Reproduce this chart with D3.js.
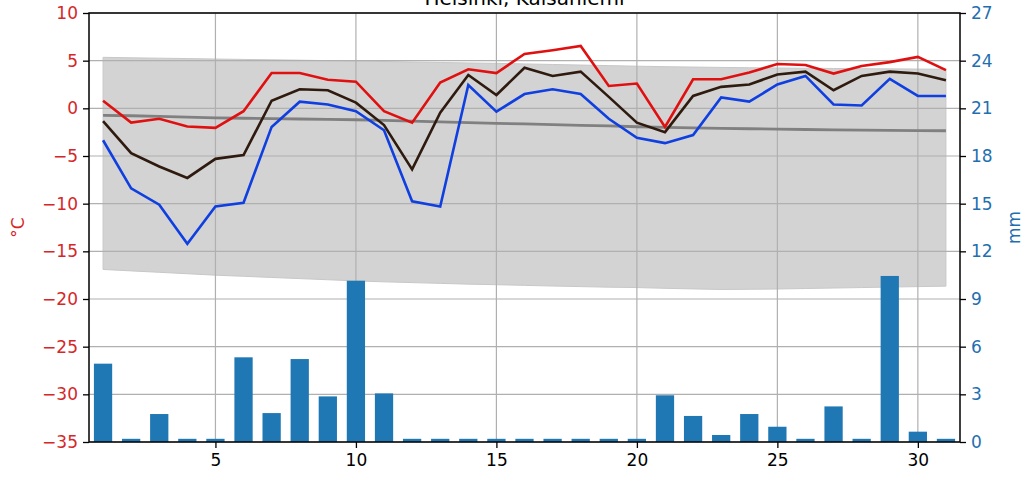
<!DOCTYPE html>
<html><head><meta charset="utf-8">
<script src="https://cdn.jsdelivr.net/npm/d3@7"></script>
<style>body{margin:0;background:#fff}svg{display:block}text{font-family:"DejaVu Sans",sans-serif}</style>
</head><body><svg id="c" width="1034" height="484"></svg>
<script>
const title = "Helsinki, Kaisaniemi";
const days = d3.range(1, 32);
const tMax = [0.8,-1.5,-1.1,-1.9,-2.05,-0.3,3.7,3.7,3.0,2.8,-0.3,-1.5,2.7,4.1,3.7,5.7,6.1,6.55,2.35,2.6,-1.95,3.05,3.05,3.75,4.65,4.55,3.65,4.45,4.85,5.4,4.0];
const tMean = [-1.35,-4.7,-6.1,-7.3,-5.3,-4.9,0.8,2.0,1.9,0.6,-1.75,-6.4,-0.45,3.5,1.4,4.25,3.4,3.85,1.2,-1.5,-2.5,1.3,2.25,2.5,3.55,3.85,1.9,3.4,3.85,3.65,2.95];
const tMin = [-3.35,-8.4,-10.1,-14.2,-10.3,-9.9,-1.95,0.7,0.4,-0.3,-2.3,-9.75,-10.3,2.45,-0.35,1.5,2.0,1.5,-1.1,-3.1,-3.65,-2.8,1.15,0.7,2.5,3.4,0.4,0.3,3.1,1.3,1.3];
const climMean = [-0.73,-0.78,-0.84,-0.92,-1.0,-1.04,-1.08,-1.12,-1.16,-1.2,-1.27,-1.34,-1.41,-1.49,-1.57,-1.64,-1.71,-1.78,-1.85,-1.93,-2.0,-2.05,-2.1,-2.14,-2.18,-2.22,-2.25,-2.28,-2.31,-2.33,-2.35];
const bandHigh = [5.35,5.3,5.26,5.22,5.17,5.13,5.09,5.05,5.0,4.96,4.91,4.86,4.81,4.76,4.72,4.66,4.6,4.54,4.48,4.42,4.37,4.33,4.29,4.26,4.23,4.2,4.18,4.16,4.14,4.12,4.1];
const bandLow = [-16.9,-17.05,-17.2,-17.35,-17.5,-17.62,-17.74,-17.86,-17.98,-18.1,-18.2,-18.28,-18.36,-18.44,-18.5,-18.57,-18.64,-18.7,-18.76,-18.8,-18.88,-18.94,-19.0,-18.98,-18.95,-18.9,-18.85,-18.8,-18.75,-18.7,-18.65];
const precip = [4.93,0.2,1.76,0.2,0.2,5.33,1.82,5.22,2.87,10.15,3.06,0.2,0.2,0.2,0.2,0.2,0.2,0.2,0.2,0.2,2.94,1.64,0.44,1.76,0.96,0.2,2.24,0.2,10.45,0.65,0.2];
const xTicks = [5,10,15,20,25,30];
const tTicks = [-35,-30,-25,-20,-15,-10,-5,0,5,10];
const pTicks = [0,3,6,9,12,15,18,21,24,27];

const svg = d3.select("#c");
const L=89, R=960, T=13, B=442;
const x = d3.scaleLinear().domain([0.5,31.5]).range([L,R]);
const yT = d3.scaleLinear().domain([-35,10]).range([B,T]);
const yP = d3.scaleLinear().domain([0,27]).range([B,T]);
const fmt = v => (v<0 ? "\u2212"+Math.abs(v) : String(v));

// band
svg.append("path").datum(days.map((d,i)=>[d,bandLow[i],bandHigh[i]]))
  .attr("d", d3.area().x(d=>x(d[0])).y0(d=>yT(d[1])).y1(d=>yT(d[2])))
  .attr("fill","#d3d3d3").attr("stroke","#c8c8c8").attr("stroke-width",1);

// grid
const g = svg.append("g");
g.selectAll(".gx").data(xTicks).join("line").attr("x1",d=>x(d)).attr("x2",d=>x(d)).attr("y1",T).attr("y2",B)
  .attr("stroke","#b0b0b0").attr("stroke-width",1.2);
g.selectAll(".gy").data(tTicks).join("line").attr("x1",L).attr("x2",R).attr("y1",d=>yT(d)).attr("y2",d=>yT(d))
  .attr("stroke","#b0b0b0").attr("stroke-width",1.2);

// lines
const line = arr => d3.line().x((d,i)=>x(days[i])).y(d=>yT(d))(arr);
svg.append("path").attr("d",line(climMean)).attr("fill","none").attr("stroke","#808080").attr("stroke-width",2.8);
svg.append("path").attr("d",line(tMin)).attr("fill","none").attr("stroke","#0f3fe0").attr("stroke-width",2.6);
svg.append("path").attr("d",line(tMean)).attr("fill","none").attr("stroke","#2e1a0e").attr("stroke-width",2.6);
svg.append("path").attr("d",line(tMax)).attr("fill","none").attr("stroke","#e01010").attr("stroke-width",2.6);

// bars
const bw = 0.65;
svg.selectAll(".bar").data(precip).join("rect")
  .attr("x",(d,i)=>x(days[i]-bw/2)).attr("width",x(bw)-x(0))
  .attr("y",d=>yP(d)).attr("height",d=>yP(0)-yP(d)).attr("fill","#1f77b4");

// axes
const axL = svg.append("g").attr("transform",`translate(${L},0)`)
  .call(d3.axisLeft(yT).tickValues(tTicks).tickFormat(fmt).tickSize(6).tickPadding(5));
axL.selectAll("text").attr("fill","#d62728").style("font-size","17px");
const axR = svg.append("g").attr("transform",`translate(${R},0)`)
  .call(d3.axisRight(yP).tickValues(pTicks).tickFormat(fmt).tickSize(6).tickPadding(5));
axR.selectAll("text").attr("fill","#1f6fb0").style("font-size","17px");
const axB = svg.append("g").attr("transform",`translate(0,${B})`)
  .call(d3.axisBottom(x).tickValues(xTicks).tickFormat(fmt).tickSize(6).tickPadding(6));
axB.selectAll("text").attr("fill","#000").style("font-size","17px");
[axL,axR,axB].forEach(a=>{a.select(".domain").remove();a.selectAll(".tick line").attr("stroke","#000").attr("stroke-width",1.3);});
// frame
svg.append("rect").attr("x",L).attr("y",T).attr("width",R-L).attr("height",B-T)
  .attr("fill","none").attr("stroke","#000").attr("stroke-width",1.5);

svg.append("text").attr("transform",`translate(24,${(T+B)/2}) rotate(-90)`).attr("text-anchor","middle")
  .attr("fill","#d62728").style("font-size","17px").text("°C");
svg.append("text").attr("transform",`translate(1020,${(T+B)/2}) rotate(-90)`).attr("text-anchor","middle")
  .attr("fill","#1f6fb0").style("font-size","17px").text("mm");
svg.append("text").attr("x",(L+R)/2).attr("y",5).attr("text-anchor","middle")
  .attr("fill","#000").style("font-size","20px").text(title);
</script></body></html>
